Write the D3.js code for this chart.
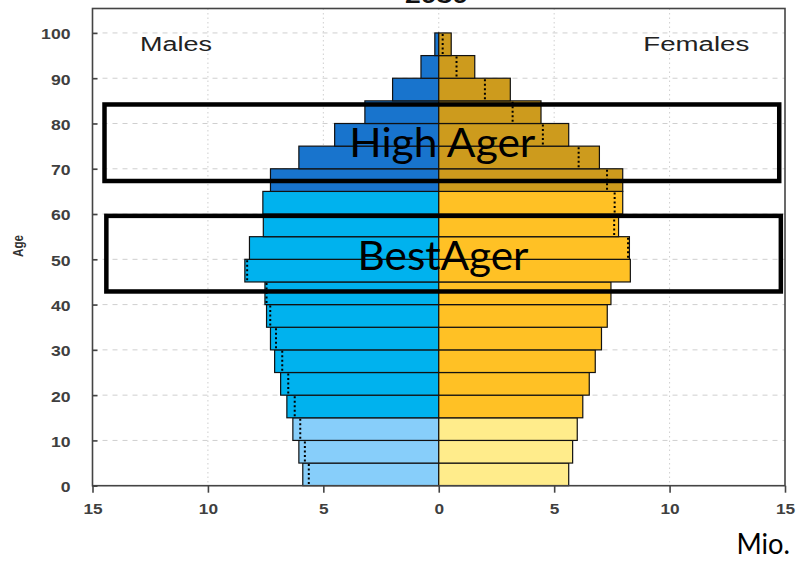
<!DOCTYPE html>
<html>
<head>
<meta charset="utf-8">
<script src="https://cdn.jsdelivr.net/npm/d3@7"></script>
<style>
  html, body { margin: 0; padding: 0; background: #fff; }
  svg { display: block; }
</style>
</head>
<body>
<svg id="chart" width="798" height="561"></svg>
<script>
// ---- data ----
const ageStarts = [0,5,10,15,20,25,30,35,40,45,50,55,60,65,70,75,80,85,90,95];
const males   = [5.89,6.06,6.32,6.58,6.85,7.11,7.29,7.46,7.53,8.40,8.20,7.60,7.62,7.29,6.06,4.51,3.20,2.00,0.77,0.17];
const females = [5.63,5.80,6.00,6.24,6.52,6.78,7.05,7.30,7.46,8.30,8.26,7.79,7.97,7.97,6.96,5.63,4.43,3.10,1.56,0.54];
const xTicks = [-15,-10,-5,0,5,10,15];
const yTicks = [0,10,20,30,40,50,60,70,80,90,100];
const groupColorsMale   = {young: "#87CEFA", mid: "#00B2EE", old: "#1874CD"};
const groupColorsFemale = {young: "#FFEC8B", mid: "#FFC125", old: "#CD9B1D"};
const sideLabels = ["Males", "Females"];
const overlayBoxes = [
  {label: "High Ager", y0: 67.3, y1: 84.2, x0: -14.48, x1: 14.75},
  {label: "BestAger",  y0: 42.9, y1: 59.6, x0: -14.4,  x1: 14.82}
];
const titleText = "2030";

(function () {
// ---- layout ----
const svg = d3.select("#chart");
const pLeft = 92.5, pRight = 785, pTop = 8.5, pBottom = 485.7;
const x = d3.scaleLinear().domain([-15, 15]).range([pLeft, pRight]);
const y = d3.scaleLinear().domain([0, 105.4]).range([pBottom, pTop]);
const band = 5;

function grp(a){ return a < 15 ? "young" : (a < 65 ? "mid" : "old"); }

svg.append("rect").attr("width", 798).attr("height", 561).attr("fill", "#fff");

// title (mostly cut off at the top, as in the original)
svg.append("text").attr("x", 436.5).attr("y", 2.5)
  .attr("text-anchor", "middle").attr("font-family", "Liberation Sans, Arial, sans-serif")
  .attr("font-weight", "bold").attr("font-size", 22)
  .attr("textLength", 63).attr("lengthAdjust", "spacingAndGlyphs")
  .attr("fill", "#111").text(titleText);

// grid
const grid = svg.append("g");
grid.selectAll("line.h").data(yTicks).join("line")
  .attr("x1", pLeft).attr("x2", pRight)
  .attr("y1", d => y(d)).attr("y2", d => y(d))
  .attr("stroke", "#cfcfcf").attr("stroke-width", 1).attr("stroke-dasharray", "5,5");
grid.selectAll("line.v").data(xTicks.filter(d => Math.abs(d) < 15)).join("line")
  .attr("x1", d => x(d)).attr("x2", d => x(d))
  .attr("y1", pTop).attr("y2", pBottom)
  .attr("stroke", "#cfcfcf").attr("stroke-width", 1).attr("stroke-dasharray", "1.5,3");

// bars
const rows = ageStarts.map((a, i) => ({a, m: males[i], f: females[i]}));
const bars = svg.append("g");
bars.selectAll("rect.m").data(rows).join("rect")
  .attr("x", d => x(-d.m)).attr("width", d => x(0) - x(-d.m))
  .attr("y", d => y(d.a + band)).attr("height", d => y(d.a) - y(d.a + band))
  .attr("fill", d => groupColorsMale[grp(d.a)])
  .attr("stroke", "#111").attr("stroke-width", 1.2);
bars.selectAll("rect.f").data(rows).join("rect")
  .attr("x", x(0)).attr("width", d => x(d.f) - x(0))
  .attr("y", d => y(d.a + band)).attr("height", d => y(d.a) - y(d.a + band))
  .attr("fill", d => groupColorsFemale[grp(d.a)])
  .attr("stroke", "#111").attr("stroke-width", 1.2);

// dotted comparison lines: other sex mirrored, visible inside the bar
bars.selectAll("line.dm").data(rows.filter(d => d.f < d.m)).join("line")
  .attr("x1", d => x(-d.f)).attr("x2", d => x(-d.f))
  .attr("y1", d => y(d.a + band) + 1).attr("y2", d => y(d.a) - 1)
  .attr("stroke", "#000").attr("stroke-width", 2).attr("stroke-dasharray", "2,2.5");
bars.selectAll("line.df").data(rows.filter(d => d.m < d.f)).join("line")
  .attr("x1", d => x(d.m)).attr("x2", d => x(d.m))
  .attr("y1", d => y(d.a + band) + 1).attr("y2", d => y(d.a) - 1)
  .attr("stroke", "#000").attr("stroke-width", 2).attr("stroke-dasharray", "2,2.5");

// frame
svg.append("rect").attr("x", pLeft).attr("y", pTop)
  .attr("width", pRight - pLeft).attr("height", pBottom - pTop)
  .attr("fill", "none").attr("stroke", "#444").attr("stroke-width", 1.6);

// axes
const tickFont = "Liberation Sans, Arial, sans-serif";
const xAxis = svg.append("g").attr("transform", `translate(0,${pBottom})`)
  .call(d3.axisBottom(x).tickValues(xTicks).tickFormat(d => Math.abs(d)).tickSize(7).tickPadding(11));
xAxis.select(".domain").remove();
xAxis.selectAll(".tick line").attr("stroke", "#444").attr("stroke-width", 1.6);
xAxis.selectAll(".tick text")
  .attr("font-family", tickFont).attr("font-weight", "bold").attr("font-size", 14)
  .attr("fill", "#3f3f3f")
  .attr("textLength", d => String(Math.abs(d)).length * 9.6).attr("lengthAdjust", "spacingAndGlyphs");

const yAxis = svg.append("g").attr("transform", `translate(${pLeft},0)`)
  .call(d3.axisLeft(y).tickValues(yTicks).tickSize(-5).tickPadding(22));
yAxis.select(".domain").remove();
yAxis.selectAll(".tick line").attr("stroke", "#444").attr("stroke-width", 1.6);
yAxis.selectAll(".tick text")
  .attr("font-family", tickFont).attr("font-weight", "bold").attr("font-size", 14)
  .attr("fill", "#3f3f3f").attr("dy", "0.42em")
  .attr("textLength", d => String(d).length * 9.8).attr("lengthAdjust", "spacingAndGlyphs");

// Age label (stretched like the rest of the original)
svg.append("text").attr("transform", "translate(22.7,246) scale(1.35,1) rotate(-90)")
  .attr("text-anchor", "middle").attr("font-family", tickFont).attr("font-weight", "bold")
  .attr("font-size", 11.5).attr("fill", "#333")
  .attr("textLength", 22).attr("lengthAdjust", "spacingAndGlyphs").text("Age");

// Males / Females
svg.append("text").attr("x", 140).attr("y", 50.7)
  .attr("font-family", tickFont).attr("font-size", 19.5).attr("fill", "#222")
  .attr("textLength", 72).attr("lengthAdjust", "spacingAndGlyphs").text(sideLabels[0]);
svg.append("text").attr("x", 749.3).attr("y", 50.7).attr("text-anchor", "end")
  .attr("font-family", tickFont).attr("font-size", 19.5).attr("fill", "#222")
  .attr("textLength", 106).attr("lengthAdjust", "spacingAndGlyphs").text(sideLabels[1]);

// overlay boxes
const ov = svg.append("g");
ov.selectAll("rect").data(overlayBoxes).join("rect")
  .attr("x", d => x(d.x0)).attr("width", d => x(d.x1) - x(d.x0))
  .attr("y", d => y(d.y1)).attr("height", d => y(d.y0) - y(d.y1))
  .attr("fill", "none").attr("stroke", "#000").attr("stroke-width", 4.5);

const ovFont = "Lato, 'Open Sans', sans-serif";
svg.append("text").attr("x", 349.3).attr("y", 156.7)
  .attr("font-family", ovFont).attr("font-size", 40).attr("fill", "#000")
  .attr("textLength", 186).attr("lengthAdjust", "spacingAndGlyphs").text(overlayBoxes[0].label);
svg.append("text").attr("x", 357.5).attr("y", 269.5)
  .attr("font-family", ovFont).attr("font-size", 40).attr("fill", "#000")
  .attr("textLength", 171).attr("lengthAdjust", "spacingAndGlyphs").text(overlayBoxes[1].label);

// Mio.
svg.append("text").attr("x", 736.5).attr("y", 554)
  .attr("font-family", ovFont).attr("font-size", 29).attr("fill", "#000")
  .attr("textLength", 53.5).attr("lengthAdjust", "spacingAndGlyphs").text("Mio.");
})();
</script>
</body>
</html>
